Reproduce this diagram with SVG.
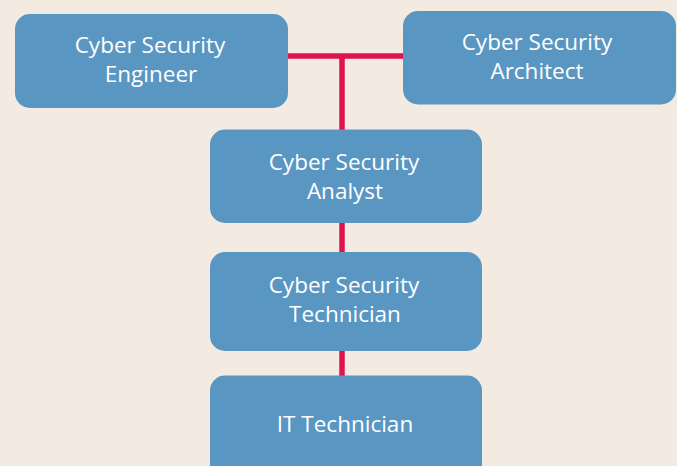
<svg xmlns="http://www.w3.org/2000/svg" width="677" height="466" viewBox="0 0 677 466">
<style>
.box{fill:#5A96C2;}
.lbl{font-family:"Open Sans","Noto Sans","Liberation Sans",sans-serif;font-size:22.5px;fill:#FFFFFF;text-anchor:middle;}
.con{stroke:#E0134F;stroke-width:5.5;fill:none;}
</style>
<rect x="0" y="0" width="677" height="466" fill="#F3EAE1"/>
<g id="connectors">
<line class="con" x1="287" y1="56" x2="404" y2="56"/>
<line class="con" x1="342" y1="56" x2="342" y2="130"/>
<line class="con" x1="342" y1="222" x2="342" y2="253"/>
<line class="con" x1="342" y1="350" x2="342" y2="376"/>
</g>
<g id="engineer">
<rect class="box" x="15" y="14" width="273" height="94" rx="15"/>
<text class="lbl" x="150" y="53">Cyber Security</text>
<text class="lbl" x="151" y="82">Engineer</text>
</g>
<g id="architect">
<rect class="box" x="403" y="11" width="273" height="93.5" rx="15"/>
<text class="lbl" x="537" y="50">Cyber Security</text>
<text class="lbl" x="537" y="79">Architect</text>
</g>
<g id="analyst">
<rect class="box" x="210" y="129.5" width="272" height="93.5" rx="15"/>
<text class="lbl" x="344" y="170">Cyber Security</text>
<text class="lbl" x="345" y="199">Analyst</text>
</g>
<g id="technician">
<rect class="box" x="210" y="252" width="272" height="99" rx="15"/>
<text class="lbl" x="344" y="293">Cyber Security</text>
<text class="lbl" x="345" y="322">Technician</text>
</g>
<g id="it-technician">
<rect class="box" x="210" y="375.5" width="272" height="105" rx="15"/>
<text class="lbl" x="345" y="432">IT Technician</text>
</g>
</svg>
